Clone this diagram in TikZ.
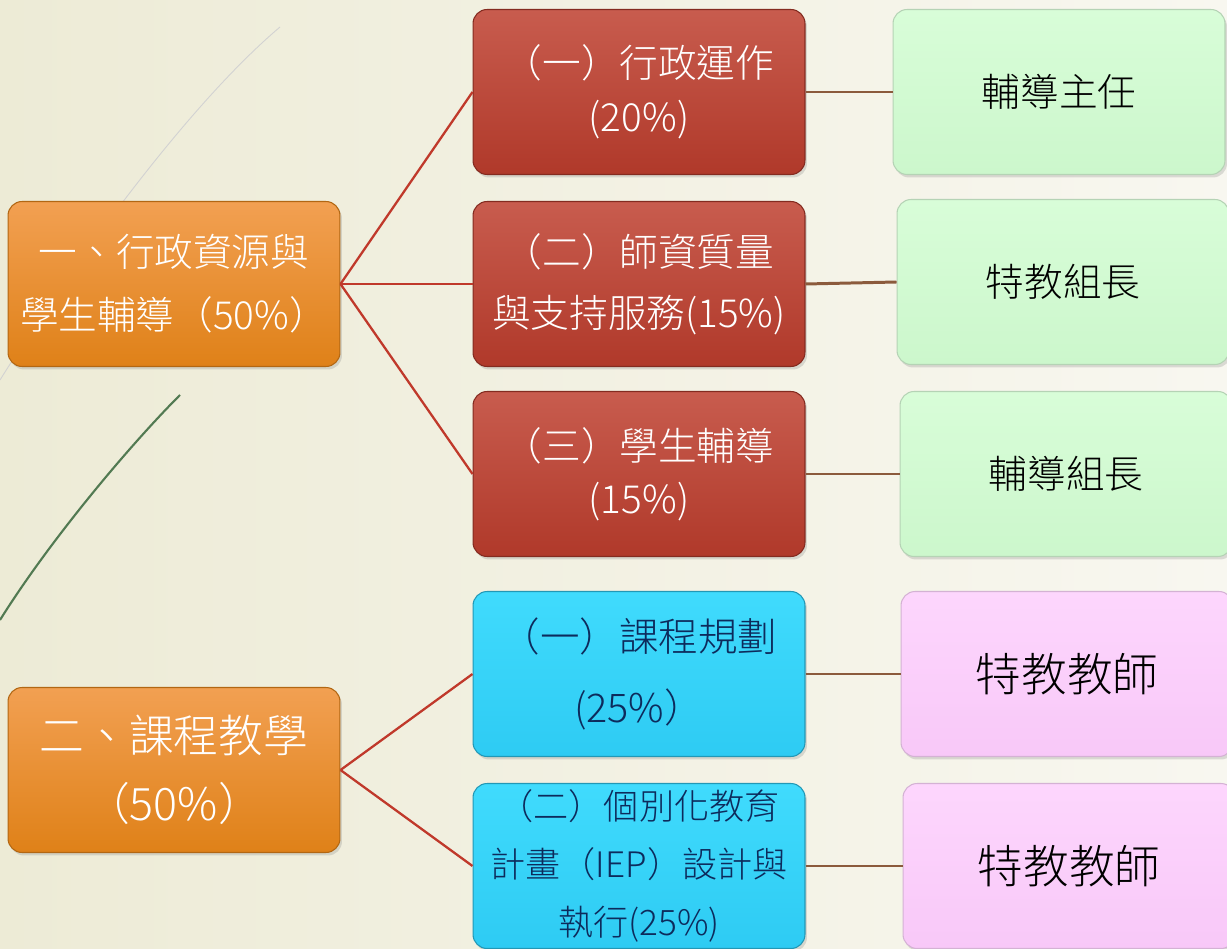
\documentclass[tikz,border=0pt]{standalone}
\usepackage{fontspec}
\setmainfont{Noto Sans CJK TC}[UprightFont=* Light]
\usepackage{xcolor}
\usetikzlibrary{shadows}

\definecolor{bgl}{HTML}{EDEBD6}
\definecolor{bgr}{HTML}{F8F7F0}
\definecolor{linkred}{HTML}{C0392B}
\definecolor{linkbrown}{HTML}{8B5A3C}
\definecolor{navy}{HTML}{0D2B5C}
\definecolor{orgtop}{HTML}{F2A052}
\definecolor{orgbot}{HTML}{DF8118}
\definecolor{redtop}{HTML}{C85C4E}
\definecolor{redbot}{HTML}{B0392A}
\definecolor{blutop}{HTML}{40DBFD}
\definecolor{blubot}{HTML}{2ECBF3}
\definecolor{grntop}{HTML}{D8FDD8}
\definecolor{grnbot}{HTML}{CCF7CC}
\definecolor{pnktop}{HTML}{FDD6FD}
\definecolor{pnkbot}{HTML}{F8C8F8}

\tikzset{
  box/.style={rounded corners=8pt, minimum width=6.64cm, minimum height=3.3cm,
    align=center, inner sep=0pt, line width=0.6pt,
    drop shadow={opacity=0.25, shadow xshift=0.04cm, shadow yshift=-0.06cm}},
  topbox/.style={box, draw=orgbot!80!black, top color=orgtop, bottom color=orgbot, text=white},
  midbox/.style={box, draw=redbot!75!black, top color=redtop, bottom color=redbot, text=white},
  curbox/.style={box, draw=blubot!75!black, top color=blutop, bottom color=blubot, text=navy},
  staffbox/.style={box, draw=grnbot!70!gray, top color=grntop, bottom color=grnbot, text=black},
  tchbox/.style={box, draw=pnkbot!70!gray, top color=pnktop, bottom color=pnkbot, text=black},
  redlink/.style={linkred, line width=1.3pt},
  brownlink/.style={linkbrown, line width=1.7pt}
}

\begin{document}
\begin{tikzpicture}[x=0.02cm, y=-0.02cm]
     \useasboundingbox (0,0) rectangle (1227,949);
     \shade[left color=bgl, right color=bgr] (0,0) rectangle (1227,949);
     \draw[gray!35, line width=0.5pt] (280,27) .. controls (189,104) and (75,260) .. (0,380);
     \draw[green!20!gray!80!black, line width=1.2pt] (180,395) .. controls (130,445) and (50,540) .. (0,620);

     \node[topbox, font=\fontsize{22}{36}\selectfont] (adm) at (174,284) {一、行政資源與\\學生輔導（50\%）};
     \node[topbox, font=\fontsize{25.5}{39}\selectfont] (cur) at (174,770) {二、課程教學\\（50\%）};

     \node[midbox, font=\fontsize{22}{31}\selectfont] (op) at (639,92) {（一）行政運作\\(20\%)};
     \node[midbox, font=\fontsize{22}{35}\selectfont] (tq) at (639,284) {（二）師資質量\\與支持服務(15\%)};
     \node[midbox, font=\fontsize{22}{30}\selectfont] (sg) at (639,474) {（三）學生輔導\\(15\%)};
     \node[curbox, font=\fontsize{22.5}{40}\selectfont] (plan) at (639,674) {（一）課程規劃\\(25\%）};
     \node[curbox, font=\fontsize{20}{33}\selectfont] (iep) at (639,866) {（二）個別化教育\\計畫（IEP）設計與\\執行(25\%)};

     \node[staffbox, font=\fontsize{22}{30}\selectfont] (dir) at (1059,92) {輔導主任};
     \node[staffbox, font=\fontsize{22}{30}\selectfont] (sped) at (1063,282) {特教組長};
     \node[staffbox, font=\fontsize{22}{30}\selectfont] (guide) at (1066,474) {輔導組長};
     \node[tchbox, font=\fontsize{26}{34}\selectfont] (t1) at (1067,674) {特教教師};
     \node[tchbox, font=\fontsize{26}{34}\selectfont] (t2) at (1069,866) {特教教師};

     \draw[redlink] (adm.east) -- (op.west);
     \draw[redlink] (adm.east) -- (tq.west);
     \draw[redlink] (adm.east) -- (sg.west);
     \draw[redlink] (cur.east) -- (plan.west);
     \draw[redlink] (cur.east) -- (iep.west);

     \draw[brownlink] (op.east) -- (dir.west);
     \draw[brownlink] (tq.east) -- (sped.west);
     \draw[brownlink] (sg.east) -- (guide.west);
     \draw[brownlink] (plan.east) -- (t1.west);
     \draw[brownlink] (iep.east) -- (t2.west);
\end{tikzpicture}
\end{document}
